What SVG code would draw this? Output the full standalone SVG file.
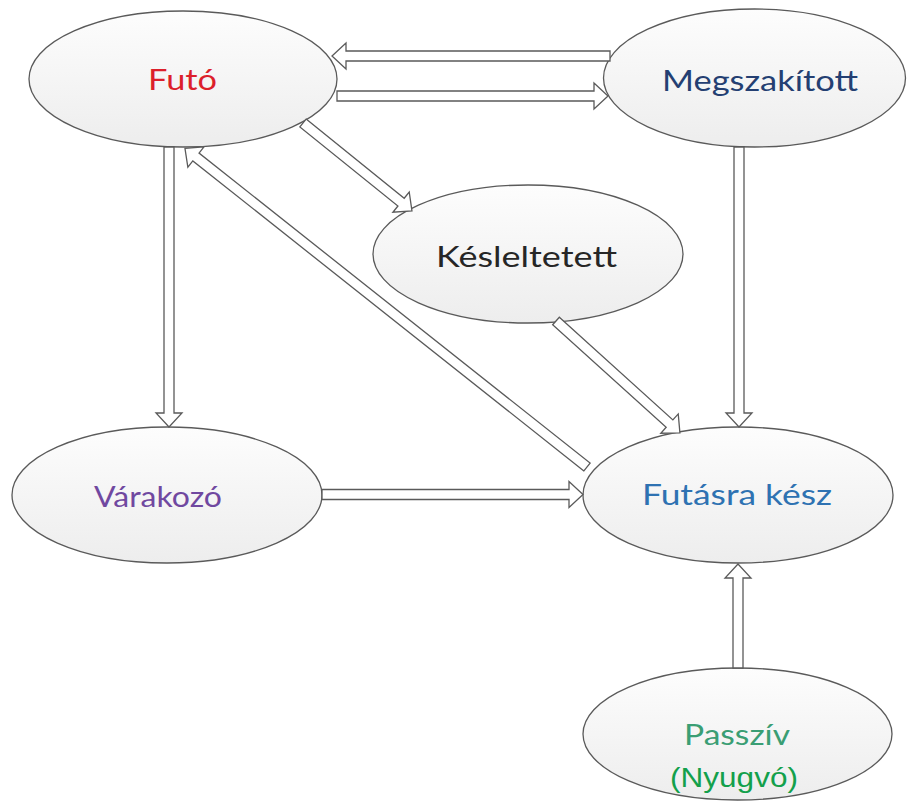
<svg xmlns="http://www.w3.org/2000/svg" width="910" height="801" viewBox="0 0 910 801">
<defs>
<linearGradient id="ng" x1="0" y1="0" x2="0" y2="1">
<stop offset="0" stop-color="#fdfdfd"/>
<stop offset="1" stop-color="#ededed"/>
</linearGradient>
</defs>
<style>
.node ellipse{fill:url(#ng);stroke:#5a5a5a;stroke-width:1.3}
.node text{font-family:Lato,"Open Sans","Liberation Sans",sans-serif;font-size:28px;text-anchor:middle}
.arr path{fill:#ffffff;stroke:#5a5a5a;stroke-width:1.3;stroke-linejoin:miter}
</style>
<rect width="910" height="801" fill="#ffffff"/>
<g id="futo" class="node">
<ellipse cx="183" cy="79" rx="154" ry="68"/>
<text x="182.5" y="90" fill="#dc1f2b" textLength="69" lengthAdjust="spacingAndGlyphs">Futó</text>
</g>
<g id="megszakitott" class="node">
<ellipse cx="754.5" cy="78" rx="151" ry="69"/>
<text x="760" y="91" fill="#243f72" textLength="196" lengthAdjust="spacingAndGlyphs">Megszakított</text>
</g>
<g id="kesleltetett" class="node">
<ellipse cx="528" cy="254" rx="155" ry="69"/>
<text x="526.5" y="267" fill="#262626" textLength="181" lengthAdjust="spacingAndGlyphs">Késleltetett</text>
</g>
<g id="varakozo" class="node">
<ellipse cx="167" cy="495" rx="155" ry="68"/>
<text x="158" y="507" fill="#7048a0" textLength="128" lengthAdjust="spacingAndGlyphs">Várakozó</text>
</g>
<g id="futasra-kesz" class="node">
<ellipse cx="738" cy="495" rx="155" ry="68"/>
<text x="737" y="505" fill="#2e72b2" textLength="190" lengthAdjust="spacingAndGlyphs">Futásra kész</text>
</g>
<g id="passziv" class="node">
<ellipse cx="737.5" cy="734" rx="154.5" ry="66"/>
<text x="737" y="745" fill="#3a9e74" textLength="106" lengthAdjust="spacingAndGlyphs">Passzív</text>
<text x="734" y="787" fill="#13a04b" style="font-family:'Liberation Sans',Arial,sans-serif" textLength="128" lengthAdjust="spacingAndGlyphs">(Nyugvó)</text>
</g>
<g id="connectors" class="arr">
<g transform="translate(610,56) rotate(180)"><path d="M0,-5 H264 V-13 L278,0 L264,13 V5 H0 Z"/></g>
<g transform="translate(337,96)"><path d="M0,-5 H257 V-13 L271,0 L257,13 V5 H0 Z"/></g>
<g transform="translate(169,147) rotate(90)"><path d="M0,-5 H266 V-13 L280,0 L266,13 V5 H0 Z"/></g>
<g transform="translate(303,123) rotate(38.9)"><path d="M0,-5 H126 V-13 L140,0 L126,13 V5 H0 Z"/></g>
<g transform="translate(587,467) rotate(218.4)"><path d="M0,-5 H499 V-13 L513,0 L499,13 V5 H0 Z"/></g>
<g transform="translate(556,321) rotate(42.1)"><path d="M0,-5 H153 V-13 L167,0 L153,13 V5 H0 Z"/></g>
<g transform="translate(739,147) rotate(90)"><path d="M0,-5 H266 V-13 L280,0 L266,13 V5 H0 Z"/></g>
<g transform="translate(322,494.5)"><path d="M0,-5 H247 V-13 L261,0 L247,13 V5 H0 Z"/></g>
<g transform="translate(738,668) rotate(-90)"><path d="M0,-5 H90 V-13 L104,0 L90,13 V5 H0 Z"/></g>
</g>
</svg>
